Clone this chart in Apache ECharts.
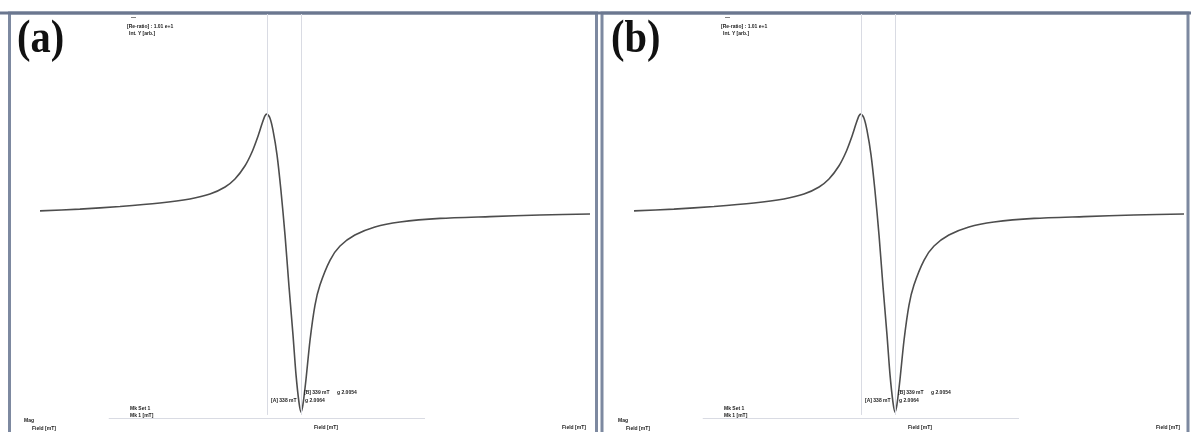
<!DOCTYPE html>
<html>
<head>
<meta charset="utf-8">
<script src="https://cdn.jsdelivr.net/npm/echarts@6/dist/echarts.min.js"></script>
<style>
  html, body { margin: 0; padding: 0; background: #ffffff; }
  #chart { width: 1191px; height: 432px; }
</style>
</head>
<body>
<div id="chart"></div>
<script>
// EPR first-derivative spectrum, recorded twice: panel (a) and panel (b)
const panelLabels = ['(a)', '(b)'];

// Magnetic field (mT)
const fieldMT = [
  330.00, 331.45, 332.91, 334.36, 335.45, 336.18, 336.73, 337.09, 337.45, 337.71,
  337.93, 338.07, 338.18, 338.25, 338.36, 338.47, 338.62, 338.76, 338.91, 339.05,
  339.20, 339.31, 339.42, 339.49, 339.56, 339.67, 339.82, 340.00, 340.18, 340.55,
  340.91, 341.45, 342.18, 343.09, 344.55, 346.36, 348.18, 350.00
];

// Derivative signal dI/dB (arb. units)
const signalA = [
    3.0,   3.9,   5.2,   6.9,   8.9,  11.3,  14.8,  18.7,  25.1,  32.0,
   39.9,  45.8,  49.8,  50.7,  48.8,  42.9,  30.5,  13.3,  -8.9, -33.5,
  -58.1, -77.8, -91.6, -96.1, -92.6, -80.3, -60.6, -43.4, -33.5, -21.2,
  -14.3,  -8.9,  -4.9,  -2.5,  -0.7,   0.2,   1.0,   1.5
];
const signalB = [
    3.0,   3.9,   5.2,   6.9,   8.9,  11.3,  14.8,  18.7,  25.1,  32.0,
   39.9,  45.8,  49.8,  50.7,  48.8,  42.9,  30.5,  13.3,  -8.9, -33.5,
  -58.1, -77.8, -91.6, -96.1, -92.6, -80.3, -60.6, -43.4, -33.5, -21.2,
  -14.3,  -8.9,  -4.9,  -2.5,  -0.7,   0.2,   1.0,   1.5
];

// Marker positions (mT): positive peak and negative peak
const markerFields = [338.25, 339.49];

// Instrument readout texts
const headerLines = ['[Re-ratio] : 1.01 e+1', 'Int. Y [arb.]'];
const markerLineB = ['[B] 339 mT', 'g 2.0054'];
const markerLineA = ['[A] 338 mT', 'g 2.0064'];
const markSetLines = ['Mk Set 1', 'Mk 1 [mT]'];
const cornerLines = ['Mag', 'Field [mT]'];
const axisCaption = 'Field [mT]';

const chart = echarts.init(document.getElementById('chart'), null, { renderer: 'canvas' });

const panelShift = 594;
const grids = [0, 1].map(i => ({
  left: 40 + i * panelShift, top: 14, width: 550, height: 406, containLabel: false
}));

const xAxes = [0, 1].map(i => ({
  type: 'value', gridIndex: i, min: 330, max: 350, show: false
}));
const yAxes = [0, 1].map(i => ({
  type: 'value', gridIndex: i, min: -100, max: 100, show: false
}));

function seriesFor(i, values) {
  const markerLines = markerFields.map(f => [
    { coord: [f, 100] }, { coord: [f, -97.5] }
  ]);
  markerLines.push([{ coord: [332.5, -99] }, { coord: [344.0, -99] }]);
  return {
    type: 'line',
    xAxisIndex: i, yAxisIndex: i,
    data: fieldMT.map((f, k) => [f, values[k]]),
    showSymbol: false,
    smooth: 0.25,
    lineStyle: { color: '#4d4d4d', width: 1.6 },
    silent: true,
    animation: false,
    markLine: {
      silent: true,
      symbol: 'none',
      label: { show: false },
      lineStyle: { color: '#d9dbe3', width: 1, type: 'solid' },
      data: markerLines
    },
    z: 3
  };
}

function smallText(x, y, text, size) {
  return {
    type: 'text', left: x, top: y,
    style: {
      text: text,
      font: 'bold ' + (size || 5) + 'px "Liberation Sans", Arial, sans-serif',
      fill: '#222222'
    },
    z: 10
  };
}

const graphics = [];
// Panel frames
graphics.push({
  type: 'rect', shape: { x: 9.5, y: 13, width: 587, height: 440 },
  style: { fill: 'none', stroke: '#7d89a0', lineWidth: 3 }, z: 1
});
graphics.push({
  type: 'rect', shape: { x: 602, y: 13, width: 586, height: 440 },
  style: { fill: 'none', stroke: '#7d89a0', lineWidth: 3 }, z: 1
});
graphics.push({
  type: 'line', shape: { x1: 0, y1: 13, x2: 1191, y2: 13 },
  style: { stroke: '#6b778f', lineWidth: 3 }, z: 2
});

[0, 1].forEach(i => {
  const dx = i * 594;
  graphics.push({
    type: 'text', x: 17 + dx, y: 17, scaleX: 0.88,
    style: {
      text: panelLabels[i],
      font: 'bold 46px "Liberation Serif", "Times New Roman", serif',
      fill: '#111111'
    },
    z: 10
  });
  graphics.push(smallText(131 + dx, 15, '\u2014', 5));
  graphics.push(smallText(127 + dx, 24, headerLines[0]));
  graphics.push(smallText(129 + dx, 31, headerLines[1]));
  graphics.push(smallText(304 + dx, 390, markerLineB[0]));
  graphics.push(smallText(337 + dx, 390, markerLineB[1]));
  graphics.push(smallText(271 + dx, 398, markerLineA[0]));
  graphics.push(smallText(305 + dx, 398, markerLineA[1]));
  graphics.push(smallText(130 + dx, 406, markSetLines[0]));
  graphics.push(smallText(130 + dx, 413, markSetLines[1]));
  graphics.push(smallText(24 + dx, 418, cornerLines[0]));
  graphics.push(smallText(32 + dx, 426, cornerLines[1]));
  graphics.push(smallText(314 + dx, 425, axisCaption));
  graphics.push(smallText(562 + dx, 425, axisCaption));
});

chart.setOption({
  backgroundColor: '#ffffff',
  animation: false,
  grid: grids,
  xAxis: xAxes,
  yAxis: yAxes,
  series: [seriesFor(0, signalA), seriesFor(1, signalB)],
  graphic: graphics
});
</script>
</body>
</html>
